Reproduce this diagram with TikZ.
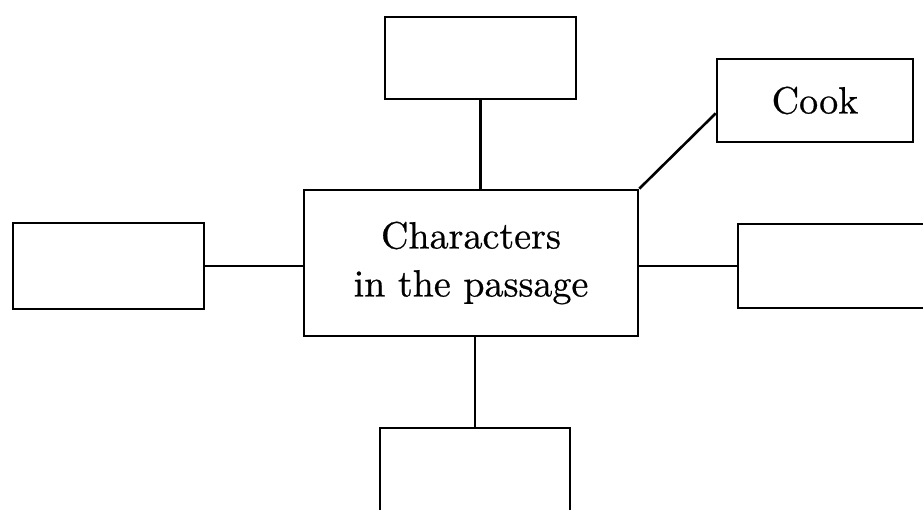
\documentclass[tikz,border=0pt]{standalone}
\usepackage{fontspec}
\setmainfont{lmroman10-regular.otf}[FakeBold=0.6]
\usetikzlibrary{calc}
\begin{document}
\begin{tikzpicture}[x=1pt,y=-1pt,
  box/.style={draw=black,line width=2.6pt,inner sep=0pt,align=center,
    font=\fontsize{38}{48}\selectfont},
  link/.style={draw=black,line width=2.6pt}]
\useasboundingbox (0,0) rectangle (923,510);
\clip (0,0) rectangle (923,510);
\node[box,minimum width=191pt,minimum height=82pt] (top) at (480.5,58) {};
\node[box,minimum width=196pt,minimum height=83pt] (cook) at (815,100.5) {Cook};
\node[box,minimum width=334pt,minimum height=146pt] (center) at (471,263) {Characters\\in the passage};
\node[box,minimum width=191pt,minimum height=86pt] (left) at (108.5,266) {};
\node[box,minimum width=200pt,minimum height=84pt] (right) at (838,266) {};
\node[box,minimum width=190pt,minimum height=90pt] (bottom) at (475,473) {};
\coordinate (ck) at ($(cook.south west)!0.35!(cook.north west)$);
\draw[link] (top.south) -- (top.south |- center.north);
\draw[link] (bottom.north) -- (bottom.north |- center.south);
\draw[link] (left.east) -- (left.east -| center.west);
\draw[link] (center.east |- right.west) -- (right.west);
\draw[link] (ck) -- (center.north east);
\end{tikzpicture}
\end{document}
